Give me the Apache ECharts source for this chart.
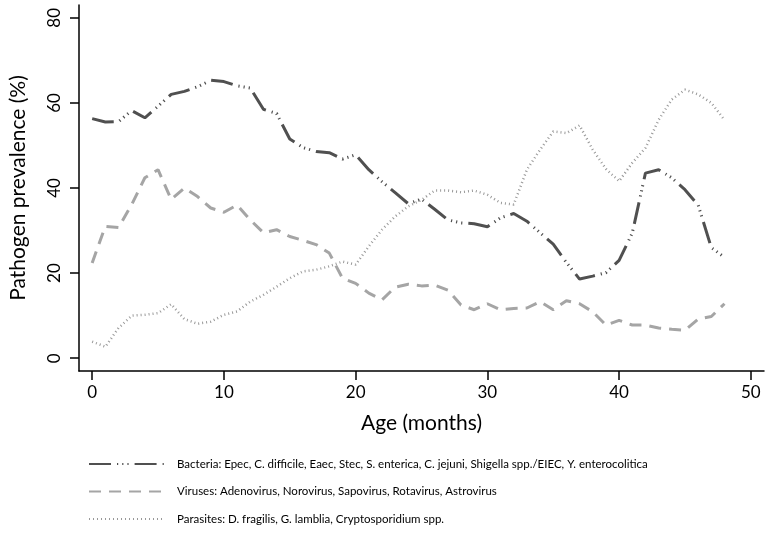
<!DOCTYPE html>
<html><head><meta charset="utf-8">
<script src="https://cdn.jsdelivr.net/npm/echarts@6/dist/echarts.min.js"></script>
<style>html,body{margin:0;padding:0;background:#fff}#c{width:769px;height:534px}</style>
</head><body><div id="c"></div>
<script>
const months = [0,1,2,3,4,5,6,7,8,9,10,11,12,13,14,15,16,17,18,19,20,21,22,23,24,25,26,27,28,29,30,31,32,33,34,35,36,37,38,39,40,41,42,43,44,45,46,47,48];
const bacteria = [56.3,55.5,55.6,58.2,56.5,59.2,62,62.7,63.8,65.3,65,64,63.5,58.5,57.5,51.5,49.5,48.6,48.3,46.8,47.8,44.3,41.5,38.9,36.3,37.4,35,32.5,31.8,31.6,30.9,33,34,32.2,29.5,26.8,22.5,18.6,19.3,20.1,23,29.4,43.5,44.3,42.4,39.6,36,26,23.7];
const viruses = [22.4,31,30.7,36.1,42.4,44.3,37.3,40,38,35.3,34.3,36,32.5,29.5,30.2,28.6,27.7,26.7,24.7,18.8,17.6,15.3,13.7,16.7,17.4,17,17.2,16,12.5,11.4,12.8,11.4,11.7,11.8,13.3,11.4,13.5,12.8,10.9,7.8,8.9,7.8,7.8,7.1,6.8,6.6,9.2,9.8,12.8];
const parasites = [3.9,2.7,7.1,10,10.2,10.6,12.7,9.2,8.1,8.6,10.2,11,13.3,14.9,16.8,18.8,20.4,20.8,21.6,22.7,22,26.3,30.2,33.3,35.7,37.2,39.4,39.4,39,39.4,38.4,36.5,36.1,44.3,49,53.3,52.9,54.7,49,44.5,41.6,45.9,49.4,56,60.8,63.1,62,60,56];
const xTicks = [0,10,20,30,40,50];
const yTicks = [0,20,40,60,80];
const names = [
  'Bacteria: Epec, C. difficile, Eaec, Stec, S. enterica, C. jejuni, Shigella spp./EIEC, Y. enterocolitica',
  'Viruses: Adenovirus, Norovirus, Sapovirus, Rotavirus, Astrovirus',
  'Parasites: D. fragilis, G. lamblia, Cryptosporidium spp.'
];
const FONT = 'Lato';
const chart = echarts.init(document.getElementById('c'), null, {renderer:'canvas'});
function pairs(arr){ return months.map((m,i)=>[m,arr[i]]); }
chart.setOption({
  animation:false,
  backgroundColor:'#fff',
  grid:{left:73,right:5,top:5,bottom:163},
  xAxis:{type:'value',min:-1,max:51,
    name:'Age (months)',nameLocation:'middle',nameGap:42,
    nameTextStyle:{fontFamily:FONT,fontSize:21,color:'#000'},
    axisLine:{onZero:false,lineStyle:{color:'#000',width:1.5}},
    axisTick:{show:true,length:9,customValues:xTicks,lineStyle:{color:'#000',width:1.5}},
    axisLabel:{customValues:xTicks,fontFamily:FONT,fontSize:17,color:'#000',margin:13},
    splitLine:{show:false}},
  yAxis:{type:'value',min:-3,max:83,
    name:'Pathogen prevalence (%)',nameLocation:'middle',nameGap:50,
    nameTextStyle:{fontFamily:FONT,fontSize:21,color:'#000'},
    axisLine:{show:true,onZero:false,lineStyle:{color:'#000',width:1.5}},
    axisTick:{show:true,length:9,customValues:yTicks,lineStyle:{color:'#000',width:1.5}},
    axisLabel:{customValues:yTicks,rotate:90,fontFamily:FONT,fontSize:17,color:'#000',margin:16},
    splitLine:{show:false}},
  legend:{orient:'vertical',left:88,top:458,padding:0,itemWidth:75,itemHeight:14,itemGap:15.5,
    itemStyle:{color:'rgba(0,0,0,0)',borderColor:'rgba(0,0,0,0)',borderWidth:0},
    textStyle:{fontFamily:FONT,fontSize:11.5,color:'#000',padding:[0,0,0,8]},
    data:names},
  series:[
    {name:names[0],type:'line',data:pairs(bacteria),symbol:'none',
      lineStyle:{color:'#505050',width:3,type:[22,6,1.2,4,1.2,4,1.2,6],cap:'butt'},itemStyle:{color:'#505050'}},
    {name:names[1],type:'line',data:pairs(viruses),symbol:'none',
      lineStyle:{color:'#a5a5a5',width:3,type:[12,8],cap:'butt'},itemStyle:{color:'#a5a5a5'}},
    {name:names[2],type:'line',data:pairs(parasites),symbol:'none',
      lineStyle:{color:'#999',width:2.5,type:[1,3],cap:'butt'},itemStyle:{color:'#999'}}
  ]
});
</script></body></html>
